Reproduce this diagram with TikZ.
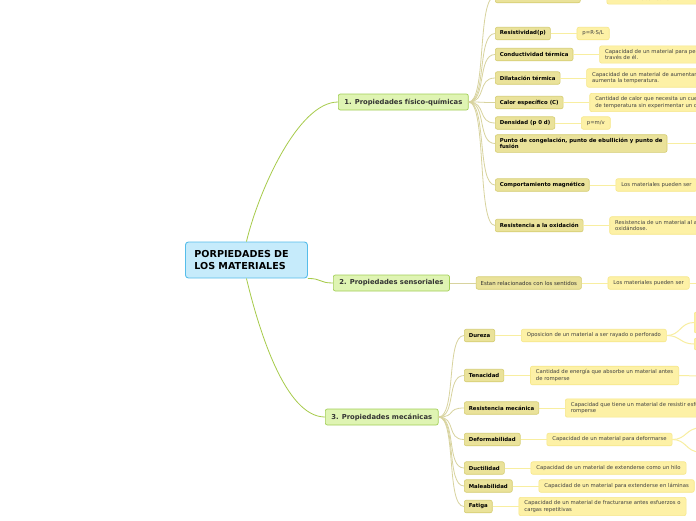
\documentclass[tikz,border=0pt]{standalone}
\usepackage{fontspec}
\setmainfont{DejaVu Sans}
\usetikzlibrary{positioning}

\definecolor{rootfill}{HTML}{C6EBFB}
\definecolor{rootdraw}{HTML}{56BDEA}
\definecolor{brfill}{HTML}{DFF4B3}
\definecolor{brdraw}{HTML}{A3CF58}
\definecolor{subfill}{HTML}{EAE29A}
\definecolor{subdraw}{HTML}{D5CD72}
\definecolor{leaffill}{HTML}{FDF1A6}
\definecolor{leafdraw}{HTML}{F6E78A}
\definecolor{maincon}{HTML}{A7CB4A}
\definecolor{subcon}{HTML}{D8D39E}
\definecolor{leafcon}{HTML}{F8EEA0}

\begin{document}
\begin{tikzpicture}[x=1pt,y=-1pt,
    mapbox/.style={draw=rootdraw,fill=rootfill,line width=0.9pt,rounded corners=3pt,
        font=\fontsize{9.6}{12}\selectfont\bfseries,align=left,text width=104pt,
        minimum height=36pt,inner xsep=9pt,anchor=west},
    branchbox/.style={draw=brdraw,fill=brfill,line width=0.7pt,rounded corners=2pt,
        font=\fontsize{6.8}{8}\selectfont\bfseries,text=black!80,
        minimum height=16pt,inner xsep=6pt,inner ysep=1pt,anchor=west},
    subbox/.style={draw=subdraw,fill=subfill,line width=0.6pt,rounded corners=2pt,
        font=\fontsize{5.4}{6.6}\selectfont\bfseries,align=left,
        minimum height=12.5pt,inner xsep=4.5pt,inner ysep=3.3pt,anchor=west},
    leafbox/.style={draw=leafdraw,fill=leaffill,line width=0.6pt,rounded corners=2pt,
        font=\fontsize{5.3}{6.6}\selectfont,text=black!75,align=left,
        minimum height=12.5pt,inner xsep=5.5pt,inner ysep=3.3pt},
    maincon/.style={draw=maincon,line width=0.8pt},
    subcon/.style={draw=subcon,line width=0.8pt},
    leafcon/.style={draw=leafcon,line width=1pt}]

\clip (0,0) rectangle (696,520);
\fill[white] (0,0) rectangle (696,520);

% Central topic
\node[mapbox] (root) at (185,260) {PORPIEDADES DE\\LOS MATERIALES};

% Main branches
\node[branchbox] (fq) at (338,102) {1. Propiedades físico-químicas};
\node[branchbox] (sens) at (333,283) {2. Propiedades sensoriales};
\node[branchbox] (mec) at (325,417) {3. Propiedades mecánicas};

\draw[maincon] (root.north) .. controls +(12,-50) and +(-40,0) .. (fq.west);
\draw[maincon] (root.south east) .. controls +(14,0) and +(-14,0) .. (sens.west);
\draw[maincon] (root.south) .. controls +(12,50) and +(-40,0) .. (mec.west);

% 1. Propiedades fisico-quimicas
\node[subbox,minimum width=85pt] (cel) at (495,-3.5) {};
\node[subbox] (res) at (495,33.5) {Resistividad(p)};
\node[subbox] (cter) at (495,54.5) {Conductividad térmica};
\node[subbox] (dil) at (495,78) {Dilatación térmica};
\node[subbox] (cal) at (495,102.5) {Calor específico (C)};
\node[subbox] (den) at (495,123) {Densidad (p 0 d)};
\node[subbox] (pun) at (495,143.5) {Punto de congelación, punto de ebullición y punto de\\fusión};
\node[subbox] (mag) at (495,185) {Comportamiento magnético};
\node[subbox] (oxi) at (495,225.5) {Resistencia a la oxidación};

\node[leafbox,right=26pt of cel,minimum width=100pt,yshift=-1pt] (cel-l) {\mbox{}\\clasificar en};
\node[leafbox,right=26pt of res] (res-l) {p=R·S/L};
\node[leafbox,right=26pt of cter] (cter-l) {Capacidad de un material para permitir el paso del calor a\\través de él.};
\node[leafbox,right=26pt of dil] (dil-l) {Capacidad de un material de aumentar su tamaño cuando\\aumenta la temperatura.};
\node[leafbox,right=26pt of cal] (cal-l) {Cantidad de calor que necesita un cuerpo para subir un grado\\de temperatura sin experimentar un cambio de estado.};
\node[leafbox,right=26pt of den] (den-l) {p=m/v};
\node[leafbox,right=26pt of mag] (mag-l) {Los materiales pueden ser};
\node[leafbox,right=26pt of oxi] (oxi-l) {Resistencia de un material al ataque del oxígeno sin\\oxidándose.};
\coordinate (pun-r) at (700,143.5);

\foreach \s in {cel,res,cter,dil,cal,den,pun,mag,oxi}
    \draw[subcon] (fq.east) .. controls +(18,0) and +(-18,0) .. (\s.west);
\foreach \s in {cel,res,cter,dil,cal,den,mag,oxi}
    \draw[leafcon] (\s.east) -- (\s-l.west);
\draw[leafcon] (pun.east) -- (pun-r);

% 2. Propiedades sensoriales
\node[subbox,right=26pt of sens,font=\fontsize{5.4}{6.6}\selectfont,text=black!80] (sen) {Estan relacionados con los sentidos};
\node[leafbox,right=26pt of sen] (sen-l) {Los materiales pueden ser};
\coordinate (sen-r) at (700,283);

\draw[subcon] (sens.east) -- (sen.west);
\draw[leafcon] (sen.east) -- (sen-l.west);
\draw[leafcon] (sen-l.east) -- (sen-r);

% 3. Propiedades mecanicas
\node[subbox] (dur) at (464,335.5) {Dureza};
\node[subbox] (ten) at (464,375.5) {Tenacidad};
\node[subbox] (rme) at (464,408) {Resistencia mecánica};
\node[subbox] (def) at (464,439.5) {Deformabilidad};
\node[subbox] (duc) at (464,468) {Ductilidad};
\node[subbox] (mal) at (464,486) {Maleabilidad};
\node[subbox] (fat) at (464,506.5) {Fatiga};

\node[leafbox,right=26pt of dur] (dur-l) {Oposicion de un material a ser rayado o perforado};
\node[leafbox,right=26pt of ten] (ten-l) {Cantidad de energía que absorbe un material antes\\de romperse};
\node[leafbox,right=26pt of rme] (rme-l) {Capacidad que tiene un material de resistir esfuerzos sin\\romperse};
\node[leafbox,right=26pt of def] (def-l) {Capacidad de un material para deformarse};
\node[leafbox,right=26pt of duc] (duc-l) {Capacidad de un material de extenderse como un hilo};
\node[leafbox,right=26pt of mal] (mal-l) {Capacidad de un material para extenderse en láminas};
\node[leafbox,right=26pt of fat] (fat-l) {Capacidad de un material de fracturarse antes esfuerzos o\\cargas repetitivas};

\foreach \s in {dur,ten,rme,def,duc,mal,fat}{
    \draw[subcon] (mec.east) .. controls +(18,0) and +(-18,0) .. (\s.west);
    \draw[leafcon] (\s.east) -- (\s-l.west);
}

% Cut off at the right edge
\node[leafbox,anchor=west,minimum width=20pt,minimum height=21pt] (dur-a) at (694,322.5) {};
\node[leafbox,anchor=west,minimum width=20pt,minimum height=12pt] (dur-b) at (694,344) {};
\coordinate (ten-r) at (700,376);
\coordinate (def-a) at (700,428);
\coordinate (def-b) at (700,452);

\draw[leafcon] (dur-l.east) .. controls +(14,0) and +(-14,0) .. (dur-a.west);
\draw[leafcon] (dur-l.east) .. controls +(14,0) and +(-14,0) .. (dur-b.west);
\draw[leafcon] (ten-l.east) -- (ten-r);
\draw[leafcon] (def-l.east) .. controls +(14,0) and +(-14,0) .. (def-a);
\draw[leafcon] (def-l.east) .. controls +(14,0) and +(-14,0) .. (def-b);

\end{tikzpicture}
\end{document}
